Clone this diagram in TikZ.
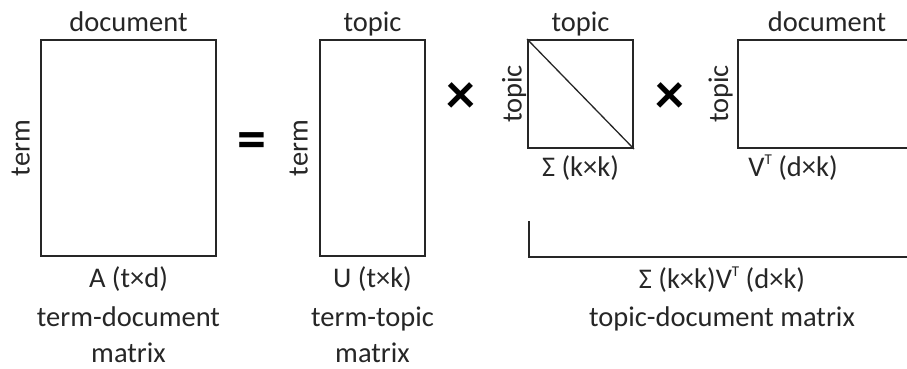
\documentclass[tikz,border=0pt]{standalone}
\usepackage{fontspec}
\setmainfont{Carlito}
\newcommand{\supT}{\raisebox{0.42em}{\fontsize{15}{15}\selectfont T}}
\begin{document}
\begin{tikzpicture}[x=1pt,y=-1pt,
  matbox/.style={draw=black!85, line width=2pt, inner sep=0pt, minimum width=#1},
  lbl/.style={anchor=base, inner sep=0pt, font=\fontsize{28.5}{34}\selectfont, text=black!85},
  side/.style={lbl, rotate=90},
  op/.style={inner sep=0pt, font=\fontsize{58}{60}\selectfont\bfseries}]
\useasboundingbox (0,0) rectangle (907,368);
\clip (0,0) rectangle (907,368);
% matrices
\node[matbox=175pt, minimum height=216pt] (A) at (128.5,148) {};
\node[matbox=105pt, minimum height=216pt] (U) at (372.5,148) {};
\node[matbox=105pt, minimum height=108pt] (S) at (580.5,94) {};
\node[matbox=200pt, minimum height=108pt] (V) at (838,94) {};
\draw[line width=1.3pt, black!85] (S.north west) -- (S.south east);
% operators
\node[op] (eq) at (251.5,146) {=};
\node[op] (x1) at (460.5,98) {×};
\node[op] (x2) at (669.5,98) {×};
% labels A
\node[lbl] (Atop) at (128.5,31) {document};
\node[side] (Aside) at (29.5,148) {term};
\node[lbl] (Abot) at (128.5,287) {A (t×d)};
\node[lbl] (Aname1) at (128.5,326) {term-document};
\node[lbl] (Aname2) at (128.5,362) {matrix};
% labels U
\node[lbl] (Utop) at (372.5,31) {topic};
\node[side] (Uside) at (307.5,148) {term};
\node[lbl] (Ubot) at (372.5,287) {U (t×k)};
\node[lbl] (Uname1) at (372.5,326) {term-topic};
\node[lbl] (Uname2) at (372.5,362) {matrix};
% labels Sigma
\node[lbl] (Stop) at (580.5,31) {topic};
\node[side] (Sside) at (521.5,94) {topic};
\node[lbl] (Sbot) at (580.5,176) {Σ (k×k)};
% labels V
\node[lbl] (Vtop) at (827,31) {document};
\node[side] (Vside) at (728,94) {topic};
\node[lbl] (Vbot) at (793,176) {V\supT\ (d×k)};
% bracket
\coordinate (bl) at (529,221);
\coordinate (br) at (930,257);
\draw[line width=2pt, black!85] (bl) |- (br);
\node[lbl] (Pbot) at (722,288) {Σ (k×k)V\supT\ (d×k)};
\node[lbl] (Pname) at (722,326) {topic-document matrix};
\end{tikzpicture}
\end{document}
